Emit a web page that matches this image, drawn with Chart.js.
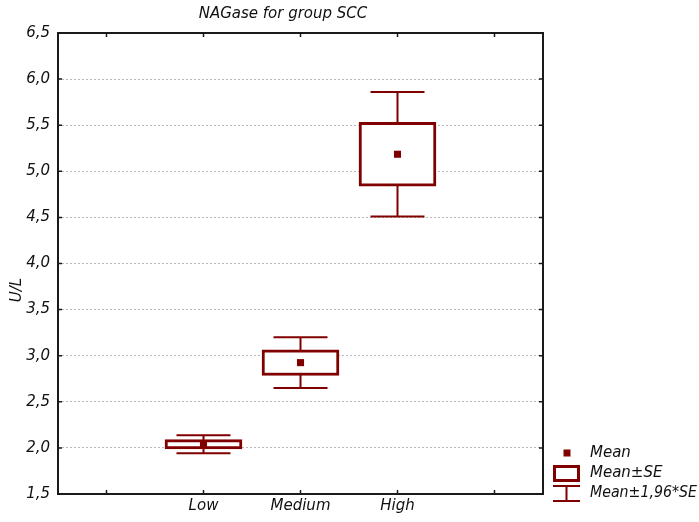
<!DOCTYPE html>
<html>
<head>
<meta charset="utf-8">
<title>NAGase for group SCC</title>
<script src="https://cdn.jsdelivr.net/npm/chart.js@4/dist/chart.umd.min.js"></script>
<style>
  html, body { margin: 0; padding: 0; background: #fff; }
</style>
</head>
<body>
<canvas id="nag-chart" width="699" height="522"></canvas>
<script>
// group labels (empty slots pad the axis on both sides)
const groups = ['', 'Low', 'Medium', 'High', ''];
// group means and standard errors, U/L
const means = [null, 2.04, 2.925, 5.185, null];
const stdErr = [null, 0.05, 0.14, 0.345, null];
const yTicks = [1.5, 2.0, 2.5, 3.0, 3.5, 4.0, 4.5, 5.0, 5.5, 6.0, 6.5];

const RED = '#800000';
const FONT = "'DejaVu Sans', Arial, sans-serif";

function fmt(v) {
    return v.toFixed(1).replace('.', ',');
}

const seBoxes = means.map((m, i) => m == null ? null : [m - stdErr[i], m + stdErr[i]]);

// whiskers for mean +/- 1.96*SE, drawn under the boxes
const whiskers = {
    id: 'whiskers',
    beforeDatasetsDraw(chart) {
        const ctx = chart.ctx;
        const xs = chart.scales.x, ys = chart.scales.y;
        ctx.save();
        ctx.strokeStyle = RED;
        ctx.lineWidth = 2;
        means.forEach((m, i) => {
            if (m == null) return;
            const x = xs.getPixelForValue(i);
            const top = ys.getPixelForValue(m + 1.96 * stdErr[i]);
            const bot = ys.getPixelForValue(m - 1.96 * stdErr[i]);
            ctx.beginPath();
            ctx.moveTo(x, top); ctx.lineTo(x, bot);
            ctx.moveTo(x - 27, top); ctx.lineTo(x + 27, top);
            ctx.moveTo(x - 27, bot); ctx.lineTo(x + 27, bot);
            ctx.stroke();
        });
        ctx.restore();
    }
};

// frame, inner tick marks, title, axis title and legend
const decorations = {
    id: 'decorations',
    afterDraw(chart) {
        const ctx = chart.ctx;
        const a = chart.chartArea;
        const xs = chart.scales.x, ys = chart.scales.y;
        ctx.save();
        ctx.strokeStyle = '#1a1a1a';
        ctx.lineWidth = 2;
        ctx.strokeRect(a.left, a.top, a.right - a.left, a.bottom - a.top);

        ctx.lineWidth = 1.5;
        ctx.beginPath();
        yTicks.forEach(v => {
            const y = ys.getPixelForValue(v);
            ctx.moveTo(a.left, y); ctx.lineTo(a.left + 4, y);
            ctx.moveTo(a.right, y); ctx.lineTo(a.right - 4, y);
        });
        groups.forEach((g, i) => {
            const x = xs.getPixelForValue(i);
            ctx.moveTo(x, a.top); ctx.lineTo(x, a.top + 4);
            ctx.moveTo(x, a.bottom); ctx.lineTo(x, a.bottom - 4);
        });
        ctx.stroke();

        ctx.fillStyle = '#111';
        ctx.font = 'italic 15px ' + FONT;
        ctx.textAlign = 'center';
        ctx.textBaseline = 'alphabetic';
        ctx.fillText('NAGase for group SCC', 283, 18);

        ctx.save();
        ctx.translate(21, 290);
        ctx.rotate(-Math.PI / 2);
        ctx.fillText('U/L', 0, 0);
        ctx.restore();

        // legend
        ctx.fillStyle = RED;
        ctx.fillRect(563.5, 449.5, 7, 7);
        ctx.strokeStyle = RED;
        ctx.lineWidth = 3;
        ctx.strokeRect(554.5, 466.5, 24, 14);
        ctx.lineWidth = 2;
        ctx.beginPath();
        ctx.moveTo(553, 486); ctx.lineTo(580, 486);
        ctx.moveTo(566.5, 486); ctx.lineTo(566.5, 501);
        ctx.moveTo(553, 501); ctx.lineTo(580, 501);
        ctx.stroke();

        ctx.fillStyle = '#111';
        ctx.textAlign = 'left';
        ctx.textBaseline = 'middle';
        ctx.fillText('Mean', 590, 453, 107);
        ctx.fillText('Mean\u00b1SE', 590, 473, 107);
        ctx.fillText('Mean\u00b11,96*SE', 590, 493, 107);
        ctx.restore();
    }
};

new Chart(document.getElementById('nag-chart'), {
    type: 'bar',
    data: {
        labels: groups,
        datasets: [
            {
                type: 'line',
                label: 'Mean',
                data: means,
                showLine: false,
                pointStyle: 'rect',
                pointRadius: 5,
                pointHoverRadius: 5,
                pointBorderWidth: 0,
                pointBackgroundColor: RED,
                order: 0
            },
            {
                label: 'Mean\u00b1SE',
                data: seBoxes,
                backgroundColor: '#fff',
                borderColor: RED,
                borderWidth: 3,
                borderSkipped: false,
                barThickness: 77,
                grouped: false,
                order: 1
            }
        ]
    },
    options: {
        responsive: false,
        devicePixelRatio: 1,
        animation: false,
        layout: { padding: { top: 33, right: 156, left: 0, bottom: 0 } },
        plugins: {
            legend: { display: false },
            tooltip: { enabled: false }
        },
        scales: {
            x: {
                offset: true,
                grid: { display: false, drawTicks: false },
                border: { display: false },
                ticks: {
                    padding: 3,
                    color: '#111',
                    font: { family: FONT, size: 15, style: 'italic' },
                    autoSkip: false,
                    maxRotation: 0
                },
                afterFit(scale) { scale.height = 28; }
            },
            y: {
                min: 1.5,
                max: 6.5,
                afterBuildTicks(scale) {
                    scale.ticks = yTicks.map(v => ({ value: v }));
                },
                grid: {
                    color: '#b8b8b8',
                    lineWidth: 1,
                    drawTicks: false
                },
                border: { display: false, dash: [2, 2] },
                ticks: {
                    padding: 8,
                    color: '#111',
                    font: { family: FONT, size: 15, style: 'italic' },
                    callback: v => fmt(v)
                },
                afterFit(scale) { scale.width = 58; }
            }
        }
    },
    plugins: [whiskers, decorations]
});
</script>
</body>
</html>
